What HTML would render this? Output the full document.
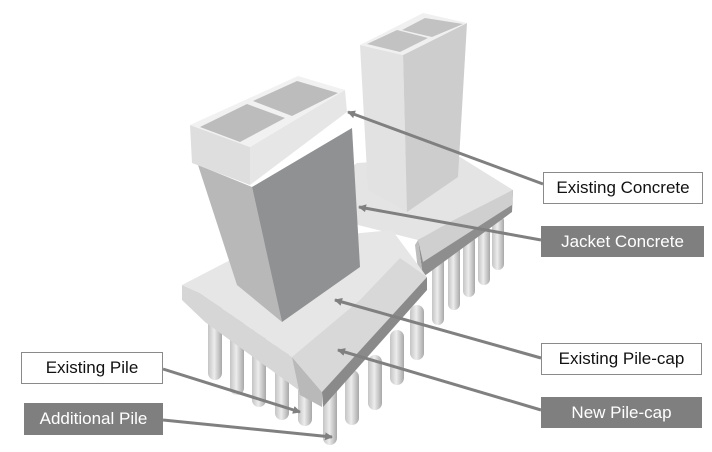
<!DOCTYPE html>
<html><head><meta charset="utf-8"><style>
html,body{margin:0;padding:0;background:#fff;}
.lb{position:absolute;font-family:"Liberation Sans","Noto Sans CJK KR",sans-serif;font-size:17px;display:flex;align-items:center;justify-content:center;box-sizing:border-box;}
.w{background:#fff;border:1px solid #8a8a8a;color:#111;}
.d{background:#7f7f7f;color:#fff;}
</style></head><body>
<div style="position:relative;width:712px;height:452px;overflow:hidden;">
<svg width="712" height="452" style="position:absolute;left:0;top:0">
<defs>
<linearGradient id="pl" x1="0" x2="1"><stop offset="0" stop-color="#c4c4c4"/><stop offset=".45" stop-color="#ececec"/><stop offset="1" stop-color="#a8a8a8"/></linearGradient>
<marker id="ah" markerWidth="8" markerHeight="8" refX="7" refY="4" orient="auto" markerUnits="userSpaceOnUse"><path d="M0,0 L8,4 L0,8 z" fill="#808080"/></marker>
</defs>
<!-- back cap piles -->
<g fill="url(#pl)">
<rect x="432" y="255" width="12" height="70" rx="6"/>
<rect x="448" y="245" width="12" height="65" rx="6"/>
<rect x="463" y="235" width="12" height="62" rx="6"/>
<rect x="478" y="225" width="12" height="60" rx="6"/>
<rect x="492" y="215" width="12" height="55" rx="6"/>
</g>
<!-- back pile cap -->
<polygon points="340,175 357,163 460,157 513,190 418,240 358,225" fill="#e4e4e4"/>
<polygon points="418,240 513,190 512,212 423,277" fill="#8e8e8e"/>
<polygon points="418,240 423,277 418,270 415,245" fill="#bdbdbd"/>
<polygon points="418,240 450,222 513,190 512,205 423,262" fill="#cfcfcf"/>
<!-- back column -->
<polygon points="360,45 368,190 407,212 403,55" fill="#e2e2e2"/>
<polygon points="403,55 467,23 458,177 407,212" fill="#cdcdcd"/>
<polygon points="360,45 423,13 467,23 403,55" fill="#f0f0f0"/>
<polygon points="367,44 397,30 428,38 400,52" fill="#c2c2c2"/>
<polygon points="402,30 425,18 463,24 432,37" fill="#c2c2c2"/>
<!-- front piles -->
<g fill="url(#pl)">
<rect x="208" y="300" width="14" height="80" rx="7"/>
<rect x="230" y="310" width="14" height="85" rx="7"/>
<rect x="252" y="322" width="14" height="85" rx="7"/>
<rect x="275" y="335" width="14" height="85" rx="7"/>
<rect x="298" y="348" width="14" height="78" rx="7"/>
<rect x="323" y="380" width="14" height="65" rx="7"/>
<rect x="345" y="370" width="14" height="55" rx="7"/>
<rect x="368" y="355" width="14" height="55" rx="7"/>
<rect x="390" y="330" width="14" height="55" rx="7"/>
<rect x="410" y="305" width="14" height="55" rx="7"/>
</g>
<!-- front pile cap -->
<polygon points="182,285 200,293 292,357 322,392 322,407 205,322 182,300" fill="#d6d6d6"/>
<polygon points="292,357 322,392 322,407 300,395" fill="#b9b9b9"/>
<polygon points="182,285 265,242 392,230 427,277 322,392 292,357 200,293" fill="#e6e6e6"/>
<polygon points="360,300 400,258 427,277 322,392 292,357" fill="#d8d8d8"/>
<polygon points="322,392 427,277 427,290 323,407" fill="#8a8a8a"/>
<!-- jacket -->
<polygon points="198,165 252,187 282,322 237,285" fill="#b8b8b8"/>
<polygon points="252,187 352,128 360,267 282,322" fill="#909193"/>
<!-- front rim -->
<polygon points="190,125 250,147 250,185 192,163" fill="#dedede"/>
<polygon points="250,147 345,90 347,112 250,185" fill="#e6e6e6"/>
<polygon points="190,125 298,76 345,90 250,147" fill="#f1f1f1"/>
<polygon points="200,127 247,104 285,118 240,142" fill="#bcbcbc"/>
<polygon points="253,101 297,81 338,93 292,116" fill="#bcbcbc"/>
<!-- connectors -->
<g stroke="#808080" stroke-width="3" marker-end="url(#ah)">
<line x1="543" y1="184" x2="348" y2="112"/>
<line x1="541" y1="240" x2="359" y2="207"/>
<line x1="541" y1="358" x2="335" y2="300"/>
<line x1="541" y1="410" x2="338" y2="350"/>
<line x1="163" y1="369" x2="300" y2="412"/>
<line x1="163" y1="420" x2="332" y2="437"/>
</g>
</svg>
<div class="lb w" style="left:543px;top:172px;width:160px;height:32px;">Existing Concrete</div>
<div class="lb d" style="left:541px;top:226px;width:163px;height:31px;">Jacket Concrete</div>
<div class="lb w" style="left:541px;top:343px;width:161px;height:32px;">Existing Pile-cap</div>
<div class="lb d" style="left:541px;top:397px;width:161px;height:31px;">New Pile-cap</div>
<div class="lb w" style="left:21px;top:352px;width:142px;height:32px;">Existing Pile</div>
<div class="lb d" style="left:24px;top:403px;width:139px;height:32px;">Additional Pile</div>
</div>
</body></html>
